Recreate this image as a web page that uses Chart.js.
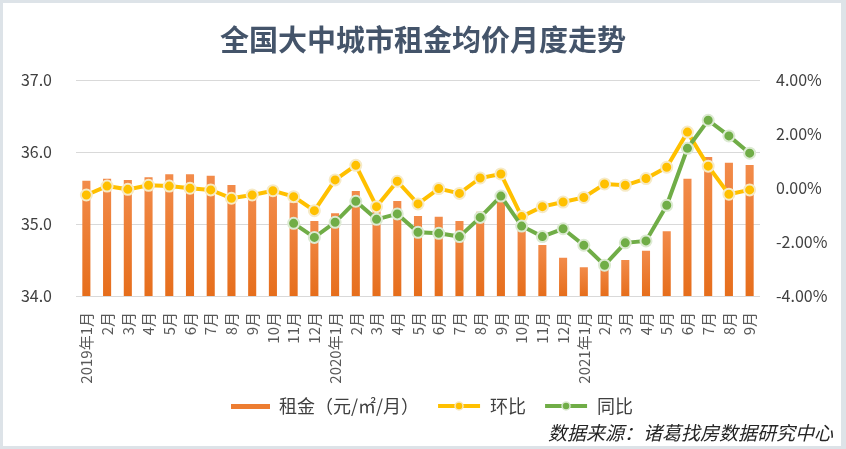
<!DOCTYPE html>
<html>
<head>
<meta charset="utf-8">
<script src="https://cdn.jsdelivr.net/npm/chart.js@4.4.1/dist/chart.umd.min.js"></script>
<style>
  html, body { margin: 0; padding: 0; background: #ffffff; }
  canvas { display: block; }
</style>
</head>
<body>
<canvas id="rentChart" width="846" height="449"></canvas>
<script>
// chart data
const months = [
    '2019年1月', '2月', '3月', '4月', '5月', '6月', '7月', '8月', '9月', '10月', '11月', '12月',
    '2020年1月', '2月', '3月', '4月', '5月', '6月', '7月', '8月', '9月', '10月', '11月', '12月',
    '2021年1月', '2月', '3月', '4月', '5月', '6月', '7月', '8月', '9月'
];
// 租金 元/㎡/月
const rent = [
    35.60, 35.63, 35.61, 35.65, 35.69, 35.69, 35.67, 35.54, 35.45, 35.41, 35.30, 35.04,
    35.15, 35.46, 35.20, 35.32, 35.11, 35.10, 35.04, 35.17, 35.33, 34.97, 34.71, 34.53,
    34.40, 34.45, 34.50, 34.63, 34.90, 35.63, 35.93, 35.85, 35.82
];
// 环比 %
const mom = [
    -0.26, 0.07, -0.05, 0.10, 0.07, -0.01, -0.07, -0.38, -0.26, -0.10, -0.32, -0.84,
    0.30, 0.84, -0.69, 0.25, -0.59, -0.02, -0.20, 0.37, 0.52, -1.06, -0.69, -0.52,
    -0.35, 0.15, 0.10, 0.35, 0.77, 2.07, 0.81, -0.23, -0.07
];
// 同比 %
const yoy = [
    null, null, null, null, null, null, null, null, null, null, -1.31, -1.83,
    -1.27, -0.49, -1.16, -0.96, -1.64, -1.68, -1.80, -1.09, -0.30, -1.41, -1.80, -1.51,
    -2.12, -2.86, -2.03, -1.96, -0.64, 1.47, 2.51, 1.93, 1.29
];
const leftTicks = [34, 35, 36, 37];
const rightTicks = [-4, -2, 0, 2, 4];
const seriesNames = ['租金（元/㎡/月）', '环比', '同比'];
const titleText = '全国大中城市租金均价月度走势';
const sourceText = '数据来源：诸葛找房数据研究中心';

const cjk = '"Noto Sans CJK SC", "Noto Sans", sans-serif';
Chart.defaults.font.family = cjk;

// little pictures for the legend (bar swatch, line with dot)
// left 13px of each picture is empty, it works as the gap between items
function legendIcon(kind, color, ring) {
    const c = document.createElement('canvas');
    c.width = 57;
    c.height = 14;
    const g = c.getContext('2d');
    if (kind === 'bar') {
        g.fillStyle = color;
        g.fillRect(18, 5, 39, 5);
    } else {
        g.strokeStyle = color;
        g.lineWidth = 4;
        g.beginPath();
        g.moveTo(14, 7);
        g.lineTo(56, 7);
        g.stroke();
        g.fillStyle = color;
        g.strokeStyle = ring;
        g.lineWidth = 1.5;
        g.beginPath();
        g.arc(35, 7, 4, 0, Math.PI * 2);
        g.fill();
        g.stroke();
    }
    return c;
}
const icons = [
    legendIcon('bar', '#ED7D31'),
    legendIcon('line', '#FFC000', '#F6EAC6'),
    legendIcon('line', '#70AD47', '#DCEAD2')
];

// frame + source note
const extras = {
    id: 'extras',
    beforeDraw(chart) {
        const c = chart.ctx;
        c.save();
        c.fillStyle = '#ffffff';
        c.fillRect(0, 0, chart.width, chart.height);
        c.restore();
    },
    afterDraw(chart) {
        const c = chart.ctx;
        c.save();
        c.font = 'italic 19px ' + cjk;
        c.fillStyle = '#262626';
        c.textAlign = 'right';
        c.textBaseline = 'middle';
        c.fillText(sourceText, 833, 433);
        c.fillStyle = '#DDE3E8';
        c.fillRect(0, 0, 846, 3);
        c.fillRect(0, 446, 846, 3);
        c.fillRect(0, 0, 3, 449);
        c.fillRect(841, 0, 5, 449);
        c.restore();
    }
};

const ctx = document.getElementById('rentChart').getContext('2d');
const rentChart = new Chart(ctx, {
    type: 'bar',
    data: {
        labels: months,
        datasets: [
            {
                type: 'bar',
                label: seriesNames[0],
                data: rent,
                yAxisID: 'y',
                order: 3,
                barPercentage: 0.39,
                categoryPercentage: 1,
                backgroundColor: function (context) {
                    const chart = context.chart;
                    const area = chart.chartArea;
                    if (!area || context.raw == null) return '#ED7D31';
                    const top = chart.scales.y.getPixelForValue(context.raw);
                    const grad = chart.ctx.createLinearGradient(0, top, 0, area.bottom);
                    grad.addColorStop(0, '#F28B4A');
                    grad.addColorStop(1, '#E66E1C');
                    return grad;
                }
            },
            {
                type: 'line',
                label: seriesNames[1],
                data: mom,
                yAxisID: 'y1',
                order: 2,
                borderColor: '#FFC000',
                backgroundColor: '#FFC000',
                borderWidth: 4,
                pointRadius: 5.5,
                pointBackgroundColor: '#FFC000',
                pointBorderColor: '#F6EAC6',
                pointBorderWidth: 2,
                tension: 0
            },
            {
                type: 'line',
                label: seriesNames[2],
                data: yoy,
                yAxisID: 'y1',
                order: 1,
                borderColor: '#70AD47',
                backgroundColor: '#70AD47',
                borderWidth: 4,
                pointRadius: 5.5,
                pointBackgroundColor: '#70AD47',
                pointBorderColor: '#DCEAD2',
                pointBorderWidth: 2,
                tension: 0
            }
        ]
    },
    options: {
        responsive: false,
        animation: false,
        layout: { padding: { top: 0, left: 0, right: 0, bottom: 24 } },
        plugins: {
            title: {
                display: true,
                text: titleText,
                color: '#44546A',
                font: { size: 29, weight: 'bold', family: cjk },
                padding: { top: 22.6, bottom: 22.6 }
            },
            legend: {
                position: 'bottom',
                labels: {
                    usePointStyle: true,
                    pointStyleWidth: 57,
                    padding: 5,
                    color: '#404040',
                    font: { size: 18 },
                    generateLabels: function () {
                        return seriesNames.map((name, i) => ({
                            text: name,
                            pointStyle: icons[i],
                            fillStyle: 'transparent',
                            strokeStyle: 'transparent',
                            lineWidth: 0,
                            fontColor: '#404040',
                            hidden: false,
                            datasetIndex: i
                        }));
                    }
                }
            },
            tooltip: { enabled: false }
        },
        scales: {
            x: {
                offset: true,
                grid: { display: false, drawTicks: false },
                border: { display: false },
                ticks: {
                    autoSkip: false,
                    minRotation: 90,
                    maxRotation: 90,
                    padding: 16,
                    color: '#595959',
                    font: { size: 15 }
                },
                afterFit: function (scale) { scale.height = 96; }
            },
            y: {
                position: 'left',
                min: 34,
                max: 37,
                afterBuildTicks: function (scale) {
                    scale.ticks = leftTicks.map(v => ({ value: v }));
                },
                grid: { color: '#D9D9D9', lineWidth: 1, drawTicks: false },
                border: { display: false },
                ticks: {
                    padding: 24,
                    color: '#404040',
                    font: { size: 16 },
                    callback: v => Number(v).toFixed(1)
                },
                afterFit: function (scale) { scale.width = 76; }
            },
            y1: {
                position: 'right',
                min: -4,
                max: 4,
                afterBuildTicks: function (scale) {
                    scale.ticks = rightTicks.map(v => ({ value: v }));
                },
                grid: { display: false, drawTicks: false },
                border: { display: false },
                ticks: {
                    padding: 16,
                    color: '#404040',
                    font: { size: 16 },
                    callback: v => Number(v).toFixed(2) + '%'
                },
                afterFit: function (scale) { scale.width = 86; }
            }
        }
    },
    plugins: [extras]
});
</script>
</body>
</html>
